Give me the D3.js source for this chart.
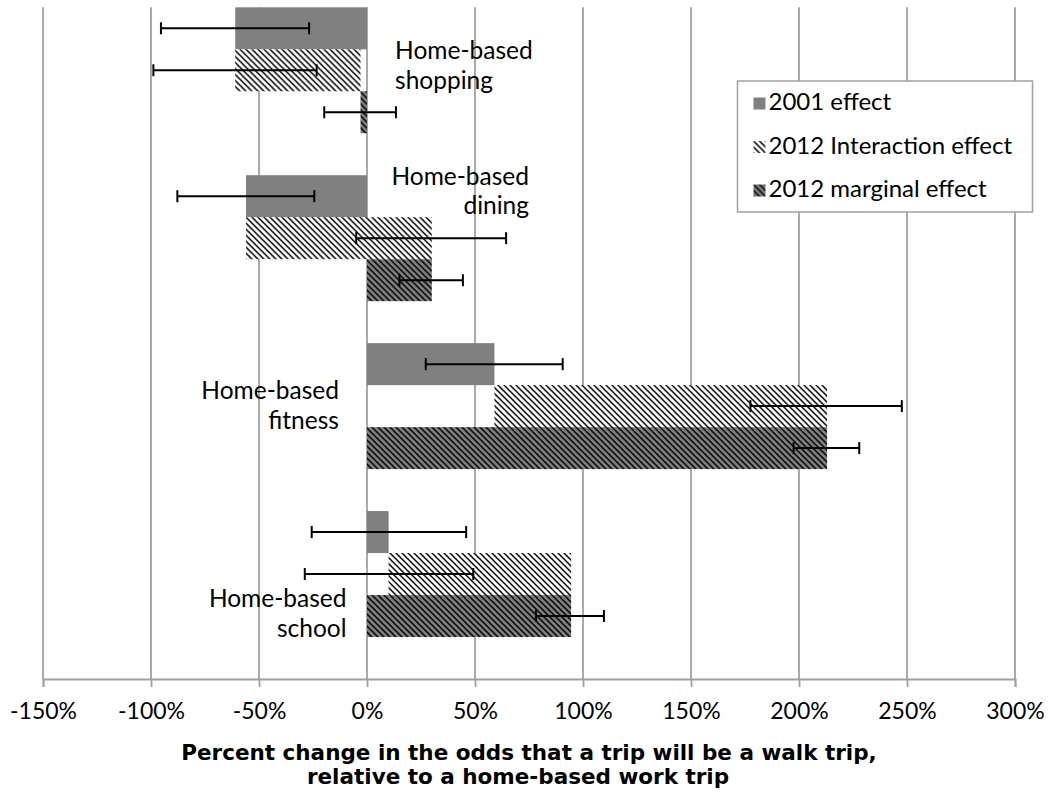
<!DOCTYPE html>
<head>
<meta charset="utf-8">
<title>Walk trip odds</title>
<style>
  body { margin: 0; background: #fff; }
  text { font-family: "Gill Sans", "Gill Sans MT", Lato, sans-serif; fill: #000; }
</style>
</head>
<body>
<script src="https://d3js.org/d3.v7.min.js"></script>
<script>

    // values (percent)
    var categories = ["shopping", "dining", "fitness", "school"];
    var effect2001 = [-61, -56, 59, 10];
    var interaction2012 = [58, 86, 154, 84.5];   // drawn starting from the 2001 effect
    var marginal2012 = [-3, 30, 213, 94.5];
    var err2001 = [[-95.4, -26.8], [-87.8, -24.4], [27.2, 90.6], [-25.6, 45.9]];
    var errInteraction = [[-98.9, -23.3], [-5, 64.4], [177.5, 247.6], [-28.8, 49.2]];
    var errMarginal = [[-19.8, 13.4], [15, 44.4], [197.5, 227.9], [78.2, 109.7]];
    var xTicks = [-150, -100, -50, 0, 50, 100, 150, 200, 250, 300];
    var seriesNames = ["2001 effect", "2012 Interaction effect", "2012 marginal effect"];
    // where the category text boxes sit: [percent, anchor, dy of first line]
    var labelPos = [[13, "start", 52], [75, "end", 9.5], [-13, "end", 56], [-9.5, "end", 96]];

    var width = 1049, height = 797;
    var plotTop = 7.3, plotBottom = 679;

    var svg = d3.select("body").append("svg")
        .attr("width", width)
        .attr("height", height);

    var defs = svg.append("defs");
    function hatch(id, bg) {
        var p = defs.append("pattern")
            .attr("id", id)
            .attr("patternUnits", "userSpaceOnUse")
            .attr("width", 6).attr("height", 6);
        p.append("rect").attr("width", 6).attr("height", 6).attr("fill", bg);
        p.append("path")
            .attr("d", "M-2,-2L8,8M-5,1L1,7M1,-5L7,1")
            .attr("stroke", "#000")
            .attr("stroke-width", 1.5);
    }
    hatch("hatchWhite", "#fff");
    hatch("hatchGray", "#808080");
    var fills = ["#808080", "url(#hatchWhite)", "url(#hatchGray)"];

    var x = d3.scaleLinear().domain([-150, 300]).range([43, 1015]);

    var y0 = d3.scaleBand()
        .domain(categories)
        .range([plotTop, plotBottom])
        .paddingInner(0.25)
        .paddingOuter(0.125)
        .align(0);

    var y1 = d3.scaleBand()
        .domain(d3.range(3))
        .range([0, y0.bandwidth()]);

    // gridlines
    svg.append("g").selectAll("line")
        .data(xTicks)
        .enter().append("line")
        .attr("x1", d => x(d)).attr("x2", d => x(d))
        .attr("y1", plotTop).attr("y2", plotBottom)
        .attr("stroke", "#a0a0a0")
        .attr("stroke-width", 1.8);

    // bars
    var rows = categories.map(function(c, i) {
        return [
            {from: 0, to: effect2001[i], err: err2001[i]},
            {from: effect2001[i], to: effect2001[i] + interaction2012[i], err: errInteraction[i]},
            {from: 0, to: marginal2012[i], err: errMarginal[i]}
        ];
    });

    var group = svg.selectAll(".group")
        .data(rows)
        .enter().append("g")
        .attr("class", "group")
        .attr("transform", (d, i) => "translate(0," + y0(categories[i]) + ")");

    group.selectAll("rect")
        .data(d => d)
        .enter().append("rect")
        .attr("x", d => x(Math.min(d.from, d.to)))
        .attr("width", d => Math.abs(x(d.to) - x(d.from)))
        .attr("y", (d, j) => y1(j))
        .attr("height", y1.bandwidth())
        .attr("fill", (d, j) => fills[j]);

    // error bars
    var eb = group.selectAll(".err")
        .data(d => d)
        .enter().append("g")
        .attr("class", "err")
        .attr("stroke", "#000")
        .attr("stroke-width", 2);
    eb.append("line")
        .attr("x1", d => x(d.err[0])).attr("x2", d => x(d.err[1]))
        .attr("y1", (d, j) => y1(j) + y1.bandwidth() / 2)
        .attr("y2", (d, j) => y1(j) + y1.bandwidth() / 2);
    [0, 1].forEach(function(k) {
        eb.append("line")
            .attr("x1", d => x(d.err[k])).attr("x2", d => x(d.err[k]))
            .attr("y1", (d, j) => y1(j) + y1.bandwidth() / 2 - 6)
            .attr("y2", (d, j) => y1(j) + y1.bandwidth() / 2 + 6);
    });

    // category labels
    categories.forEach(function(c, i) {
        var t = svg.append("text")
            .attr("font-size", "24.5px")
            .attr("text-anchor", labelPos[i][1])
            .attr("y", y0(c) + labelPos[i][2]);
        t.append("tspan").attr("x", x(labelPos[i][0])).text("Home-based");
        t.append("tspan").attr("x", x(labelPos[i][0])).attr("dy", 29.5).text(c);
    });

    // x axis
    var xAxis = d3.axisBottom(x)
        .tickValues(xTicks)
        .tickFormat(d => d + "%")
        .tickSize(8)
        .tickPadding(16);

    var ax = svg.append("g")
        .attr("transform", "translate(0," + plotBottom + ")")
        .call(xAxis);
    ax.attr("font-family", null);
    ax.select(".domain").attr("stroke", "#a0a0a0").attr("stroke-width", 1.8);
    ax.selectAll(".tick line").attr("stroke", "#a0a0a0").attr("stroke-width", 1.8);
    ax.selectAll(".tick text")
        .attr("font-size", "23px")
        .attr("fill", "#000");

    // axis title
    var title = svg.append("text")
        .attr("font-size", "21.5px")
        .attr("font-weight", "bold")
        .style("font-family", "'DejaVu Sans', sans-serif")
        .attr("text-anchor", "middle");
    title.append("tspan").attr("x", 529).attr("y", 760)
        .text("Percent change in the odds that a trip will be a walk trip,");
    title.append("tspan").attr("x", 518).attr("y", 784)
        .text("relative to a home-based work trip");

    // legend
    var legend = svg.append("g").attr("transform", "translate(737.5,81)");
    legend.append("rect")
        .attr("width", 295).attr("height", 131)
        .attr("fill", "#fff")
        .attr("stroke", "#a0a0a0")
        .attr("stroke-width", 1.5);

    seriesNames.forEach(function(name, i) {
        var row = legend.append("g")
            .attr("transform", "translate(16," + (16.5 + i * 43.5) + ")");
        row.append("rect")
            .attr("width", 12).attr("height", 12)
            .attr("fill", fills[i]);
        row.append("text")
            .attr("x", 15)
            .attr("y", 12.5)
            .attr("font-size", "24px")
            .text(name);
    });

</script>
</body>
